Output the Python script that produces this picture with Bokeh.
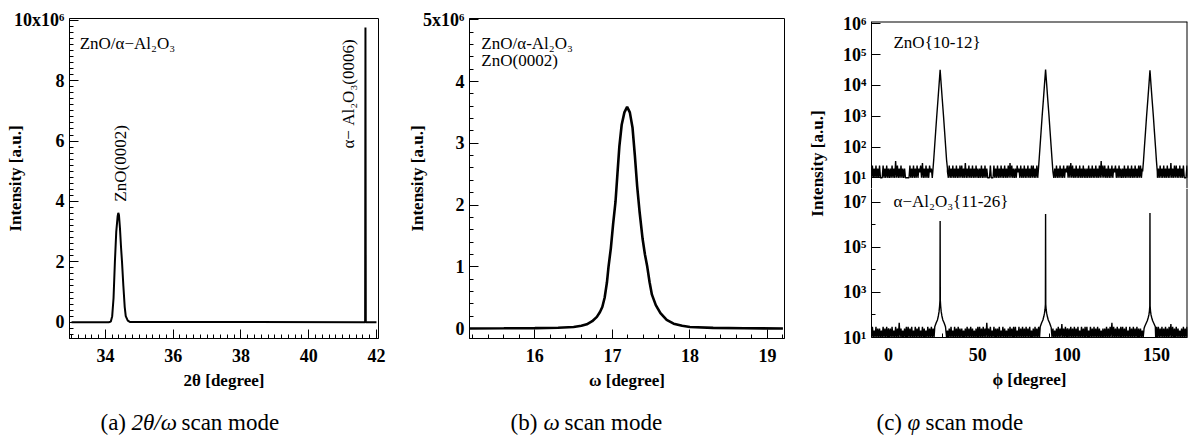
import numpy as np
from math import pi
from bokeh.plotting import figure
from bokeh.models import Label, SingleIntervalTicker, FixedTicker, Span
from bokeh.layouts import row, column
from bokeh.embed import file_html
from bokeh.resources import INLINE

FONT = "Liberation Serif, DejaVu Serif, serif"

# ---------------- (a) 2theta/omega scan (intensity in 10^6 a.u.) ----------------
twotheta_deg = [33.0, 34.10, 34.16, 34.20, 34.24, 34.28, 34.32, 34.36, 34.38, 34.40,
                34.43, 34.46, 34.49, 34.53, 34.57, 34.60, 34.66, 34.72,
                41.60, 41.665, 41.675, 41.685, 41.75, 42.0]
twotheta_int = [0, 0, 0.02, 0.2, 0.8, 2.0, 3.0, 3.5, 3.62, 3.55,
                3.1, 2.5, 2.0, 1.2, 0.5, 0.2, 0.05, 0.01,
                0, 0, 9.76, 0, 0, 0]

# ---------------- (b) omega scan (intensity in 10^6 a.u.) ----------------
omega_deg = [15.16, 15.6, 16.0, 16.3, 16.5, 16.6, 16.67, 16.74, 16.8, 16.84,
             16.87, 16.9, 16.93, 16.95, 16.98, 17.01, 17.04, 17.065, 17.09, 17.12,
             17.155, 17.19, 17.225, 17.26, 17.29, 17.32, 17.35, 17.39, 17.42, 17.45,
             17.48, 17.51, 17.56, 17.62, 17.7, 17.79, 17.9, 18.0, 18.3, 18.7, 19.2]
omega_int = [0.003, 0.005, 0.008, 0.015, 0.027, 0.045, 0.07, 0.12, 0.19, 0.27,
             0.35, 0.5, 0.75, 1.0, 1.3, 1.7, 2.05, 2.5, 2.95, 3.3,
             3.5, 3.59, 3.5, 3.25, 2.8, 2.3, 1.9, 1.45, 1.2, 1.0,
             0.75, 0.55, 0.38, 0.25, 0.14, 0.08, 0.045, 0.027, 0.012, 0.006, 0.003]

# ---------------- (c) phi scans ----------------
phi_start = -9.5
phi_step = 0.5
# background counts, one digit per step (count = 5 x digit)
zno_noise = ("25242524252225242524" "24252427252425242422" "22252425242524352624"
             "25242534252425242524" "24252425242524252425" "25242624252425242524"
             "24252425242225222524" "25242524252425262524" "24253425242524252425"
             "25242524282425242524" "24252425242524252435" "25262524252425242524"
             "24252425242524252725" "25242524252435242524" "24252425242524252425"
             "25242524272425242524" "24252425242524262425" "25242524252225242524")
al2o3_noise = ("26242625252426252625" "25262426252925242526" "26252624262526242625"
               "24262526252625282524" "26252425262426252625" "25242526252625242526"
               "26252625292526242625" "25262426252425262526" "26242625262526252624"
               "25262526242625262526" "26252425262528252625" "25262526252624262526"
               "26242625262526252425" "25262526292625262526" "26252624262526252625"
               "25242526252625242526" "26252625262526282625" "26252425262526252625")
peak_centers = [28.9, 87.9, 146.3]
zno_peak_offsets = [-4.1, -3.6, -3.1, -2.5, -1.9, -1.2, -0.6, 0.0, 0.6, 1.2, 1.9, 2.5, 3.1, 3.6, 4.1]
zno_peak_values = [
    [16, 38, 100, 320, 1000, 3500, 10500, 32000, 10500, 3500, 1000, 320, 100, 38, 16],
    [16, 40, 105, 330, 1050, 3600, 11000, 33000, 11000, 3600, 1050, 330, 105, 40, 16],
    [16, 37, 100, 310, 1000, 3400, 10000, 31000, 10000, 3400, 1000, 310, 100, 37, 16],
]
al_peak_offsets = [-3.0, -2.2, -1.5, -1.0, -0.6, -0.3, -0.1, 0.0, 0.1, 0.3, 0.6, 1.0, 1.5, 2.2, 3.0]
al_peak_values = [
    [30, 45, 60, 90, 140, 250, 450, 1.45e6, 450, 250, 140, 90, 60, 45, 30],
    [30, 45, 60, 85, 120, 180, 300, 3.0e6, 300, 180, 120, 85, 60, 45, 30],
    [30, 42, 55, 75, 100, 150, 250, 3.3e6, 250, 150, 100, 75, 55, 42, 30],
]
zno_tick_labels = {10: "10¹", 100: "10²", 1000: "10³", 10000: "10⁴", 100000: "10⁵", 1000000: "10⁶"}
al_tick_labels = {10: "10¹", 1000: "10³", 100000: "10⁵", 10000000: "10⁷"}

X_C = (-9.5, 167.3)
Y_C_TOP = (4.5, 1.19e6)
Y_C_BOT = (10, 4.05e7)


def phi_series(noise, offsets, peaks):
    phi = phi_start + phi_step * np.arange(len(noise))
    vals = np.array([5 * int(ch) for ch in noise], dtype=float)
    half = max(abs(o) for o in offsets)
    keep = np.ones(len(phi), dtype=bool)
    for c in peak_centers:
        keep &= np.abs(phi - c) > half
    xs = [phi[keep]]
    ys = [vals[keep]]
    for c, pv in zip(peak_centers, peaks):
        xs.append(c + np.array(offsets, dtype=float))
        ys.append(np.array(pv, dtype=float))
    x = np.concatenate(xs)
    y = np.concatenate(ys)
    o = np.argsort(x, kind="stable")
    return x[o], y[o]


def style(p):
    p.background_fill_color = "white"
    p.border_fill_color = "white"
    p.outline_line_color = "black"
    p.outline_line_width = 1
    p.grid.visible = False
    for ax in p.axis:
        ax.axis_line_color = "black"
        ax.axis_line_width = 1
        ax.major_tick_in = 9
        ax.major_tick_out = 0
        ax.minor_tick_in = 4
        ax.minor_tick_out = 0
        ax.major_tick_line_color = "black"
        ax.minor_tick_line_color = "black"
        ax.major_label_text_font = FONT
        ax.major_label_text_font_style = "bold"
        ax.major_label_text_font_size = "18px"
        ax.major_label_text_color = "black"
        ax.axis_label_text_font = FONT
        ax.axis_label_text_font_style = "bold"
        ax.axis_label_text_font_size = "17px"
        ax.axis_label_text_color = "black"
    for ax in p.xaxis:
        ax.major_label_standoff = 10
        ax.axis_label_standoff = 6
    for ax in p.yaxis:
        ax.major_label_standoff = 5
        ax.axis_label_standoff = 27


def txt(p, x, y, text, size="17px", align="left", angle=0.0, style_="normal"):
    p.add_layout(Label(x=x, y=y, text=text, text_font=FONT, text_font_size=size,
                       text_font_style=style_, text_align=align, text_baseline="middle",
                       angle=angle, text_color="black"))


# ---------------- panel (a) ----------------
pa = figure(width=390, height=395, x_range=(32.94, 42.06), y_range=(-0.54, 10.06),
            min_border_left=69, min_border_right=12, min_border_top=18, min_border_bottom=57,
            toolbar_location=None, output_backend="svg")
pa.line(twotheta_deg, twotheta_int, line_color="black", line_width=2)
style(pa)
pa.xaxis.ticker = SingleIntervalTicker(interval=2, num_minor_ticks=10)
pa.yaxis.ticker = SingleIntervalTicker(interval=2, num_minor_ticks=10)
pa.yaxis.major_label_overrides = {10: "10x10⁶"}
pa.yaxis.axis_label_standoff = -14
pa.xaxis.axis_label = "2θ [degree]"
pa.yaxis.axis_label = "Intensity [a.u.]"
txt(pa, 33.24, 9.23, "ZnO/α−Al₂O₃")
txt(pa, 34.45, 5.26, "ZnO(0002)", align="center", angle=pi / 2)
txt(pa, 41.18, 7.56, "α− Al₂O₃(0006)", align="center", angle=pi / 2)

# ---------------- panel (b) ----------------
pb = figure(width=400, height=395, x_range=(15.157, 19.22), y_range=(-0.16, 5.02),
            min_border_left=79, min_border_right=6, min_border_top=18, min_border_bottom=57,
            toolbar_location=None, output_backend="svg")
pb.line(omega_deg, omega_int, line_color="black", line_width=2.6)
style(pb)
pb.xaxis.ticker = SingleIntervalTicker(interval=1, num_minor_ticks=5)
pb.yaxis.ticker = SingleIntervalTicker(interval=1, num_minor_ticks=5)
pb.yaxis.major_label_overrides = {5: "5x10⁶"}
pb.yaxis.axis_label_standoff = -7
pb.xaxis.axis_label = "ω [degree]"
pb.yaxis.axis_label = "Intensity [a.u.]"
txt(pb, 15.31, 4.62, "ZnO/α-Al₂O₃")
txt(pb, 15.31, 4.34, "ZnO(0002)")

# ---------------- panel (c) ----------------
lab_c = figure(width=38, height=395, x_range=(0, 38), y_range=(0, 395), min_border=0,
               x_axis_type=None, y_axis_type=None, toolbar_location=None, output_backend="svg")
lab_c.outline_line_color = None
lab_c.grid.visible = False
txt(lab_c, 26.5, 216, "Intensity [a.u.]", align="center", angle=pi / 2, style_="bold")

zx, zy = phi_series(zno_noise, zno_peak_offsets, zno_peak_values)
ax_, ay_ = phi_series(al2o3_noise, al_peak_offsets, al_peak_values)

pc_top = figure(width=364, height=188, x_range=X_C, y_range=Y_C_TOP,
                y_axis_type="log", x_axis_location=None,
                min_border_left=43, min_border_right=5, min_border_top=21, min_border_bottom=0,
                toolbar_location=None, output_backend="svg")
pc_top.line(zx, zy, line_color="black", line_width=1.4)
style(pc_top)
pc_top.outline_line_color = None
pc_top.add_layout(Span(location=X_C[1], dimension="height", line_color="black", line_width=2))
pc_top.add_layout(Span(location=Y_C_TOP[1], dimension="width", line_color="black", line_width=2))
pc_top.yaxis.ticker = FixedTicker(ticks=[10, 100, 1000, 10000, 100000, 1000000], minor_ticks=[])
pc_top.yaxis.major_label_overrides = zno_tick_labels
txt(pc_top, 2.8, 2.45e5, "ZnO{10-12}")

pc_bot = figure(width=364, height=207, x_range=pc_top.x_range, y_range=Y_C_BOT,
                y_axis_type="log",
                min_border_left=43, min_border_right=5, min_border_top=0, min_border_bottom=58,
                toolbar_location=None, output_backend="svg")
pc_bot.line(ax_, ay_, line_color="black", line_width=1.4)
style(pc_bot)
pc_bot.outline_line_color = None
pc_bot.add_layout(Span(location=X_C[1], dimension="height", line_color="black", line_width=2))
pc_bot.xaxis.ticker = SingleIntervalTicker(interval=50, num_minor_ticks=5)
pc_bot.yaxis.ticker = FixedTicker(ticks=[10, 1000, 100000, 10000000], minor_ticks=[100, 10000, 1000000])
pc_bot.yaxis.major_label_overrides = al_tick_labels
pc_bot.xaxis.axis_label = "ϕ [degree]"
txt(pc_bot, 2.8, 1.05e7, "α−Al₂O₃{11-26}")

# ---------------- captions ----------------
cap = figure(width=1192, height=53, x_range=(0, 1192), y_range=(0, 53), min_border=0,
             x_axis_type=None, y_axis_type=None, toolbar_location=None, output_backend="svg")
cap.outline_line_color = None
cap.grid.visible = False
for x, t, st in [(100, "(a)", "normal"), (131, "2θ/ω", "italic"), (181, "scan mode", "normal"),
                 (510, "(b)", "normal"), (543, "ω", "italic"), (564, "scan mode", "normal"),
                 (876, "(c)", "normal"), (907, "φ", "italic"), (925, "scan mode", "normal")]:
    txt(cap, x, 26.3, t, size="23px", style_=st)

layout = column(row(pa, pb, lab_c, column(pc_top, pc_bot, spacing=0), spacing=0), cap, spacing=0)

open("out.html", "w").write(file_html(layout, INLINE))
